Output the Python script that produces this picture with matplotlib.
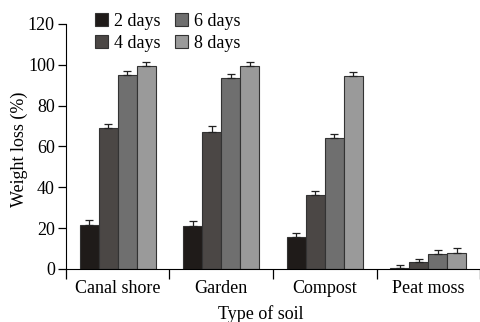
import numpy as np
import matplotlib.pyplot as plt

plt.rcParams['font.family'] = ['Liberation Serif', 'DejaVu Serif']

soils = ['Canal shore', 'Garden', 'Compost', 'Peat moss']
days = ['2 days', '4 days', '6 days', '8 days']
loss_2d = [21.6, 21.0, 15.8, 0.6]
loss_4d = [69.1, 67.2, 36.0, 3.3]
loss_6d = [95.0, 93.5, 64.0, 7.3]
loss_8d = [99.5, 99.5, 94.5, 7.7]
err_2d = [2.6, 2.4, 1.7, 1.3]
err_4d = [1.8, 2.6, 2.4, 1.5]
err_6d = [2.0, 2.1, 2.0, 2.0]
err_8d = [2.0, 2.0, 1.8, 2.4]
colors = ['#1f1b19', '#4b4745', '#6f6f6f', '#9a9a9a']


def main():
    fig = plt.figure(figsize=(4.81, 3.22), dpi=100)
    ax = fig.add_axes([0.137, 0.1646, 0.861, 0.761])

    values = [loss_2d, loss_4d, loss_6d, loss_8d]
    errors = [err_2d, err_4d, err_6d, err_8d]
    x = np.arange(len(soils))
    w = 0.183
    for i in range(4):
        pos = x + (i - 1.5) * w
        ax.bar(pos, values[i], w, color=colors[i], edgecolor='#333333',
               linewidth=0.8, label=days[i], zorder=2)
        ax.errorbar(pos, values[i], yerr=[np.zeros(4), errors[i]], fmt='none',
                    ecolor='#222222', elinewidth=0.9, capsize=3, capthick=0.9,
                    zorder=3)

    ax.set_xlim(-0.5, 3.5)
    ax.set_ylim(0, 120)
    ax.set_yticks(np.arange(0, 121, 20))
    ax.set_xticks(x)
    ax.set_xticklabels(soils, fontsize=13)
    ax.set_xticks(np.arange(-0.5, 3.6, 1), minor=True)
    ax.tick_params(axis='x', which='major', length=0, pad=8)
    ax.tick_params(axis='x', which='minor', length=7, width=0.9, direction='out')
    ax.tick_params(axis='y', labelsize=13, length=6, width=0.9, pad=2)
    ax.spines['top'].set_visible(False)
    ax.spines['right'].set_visible(False)
    ax.spines['left'].set_bounds(0, 120)

    ax.set_ylabel('Weight loss (%)', fontsize=13)
    ax.yaxis.set_label_coords(-0.092, 0.49)
    ax.set_xlabel('Type of soil', fontsize=13)
    ax.xaxis.set_label_coords(0.471, -0.148)

    ax.legend(loc='upper left', bbox_to_anchor=(0.172, 1.0),
              bbox_transform=fig.transFigure, ncol=2, frameon=False,
              fontsize=13, handlelength=0.7, handleheight=0.7,
              handletextpad=0.35, columnspacing=0.8, labelspacing=0.3,
              borderpad=0.2)

    fig.savefig('out.png', dpi=100)


if __name__ == '__main__':
    main()
